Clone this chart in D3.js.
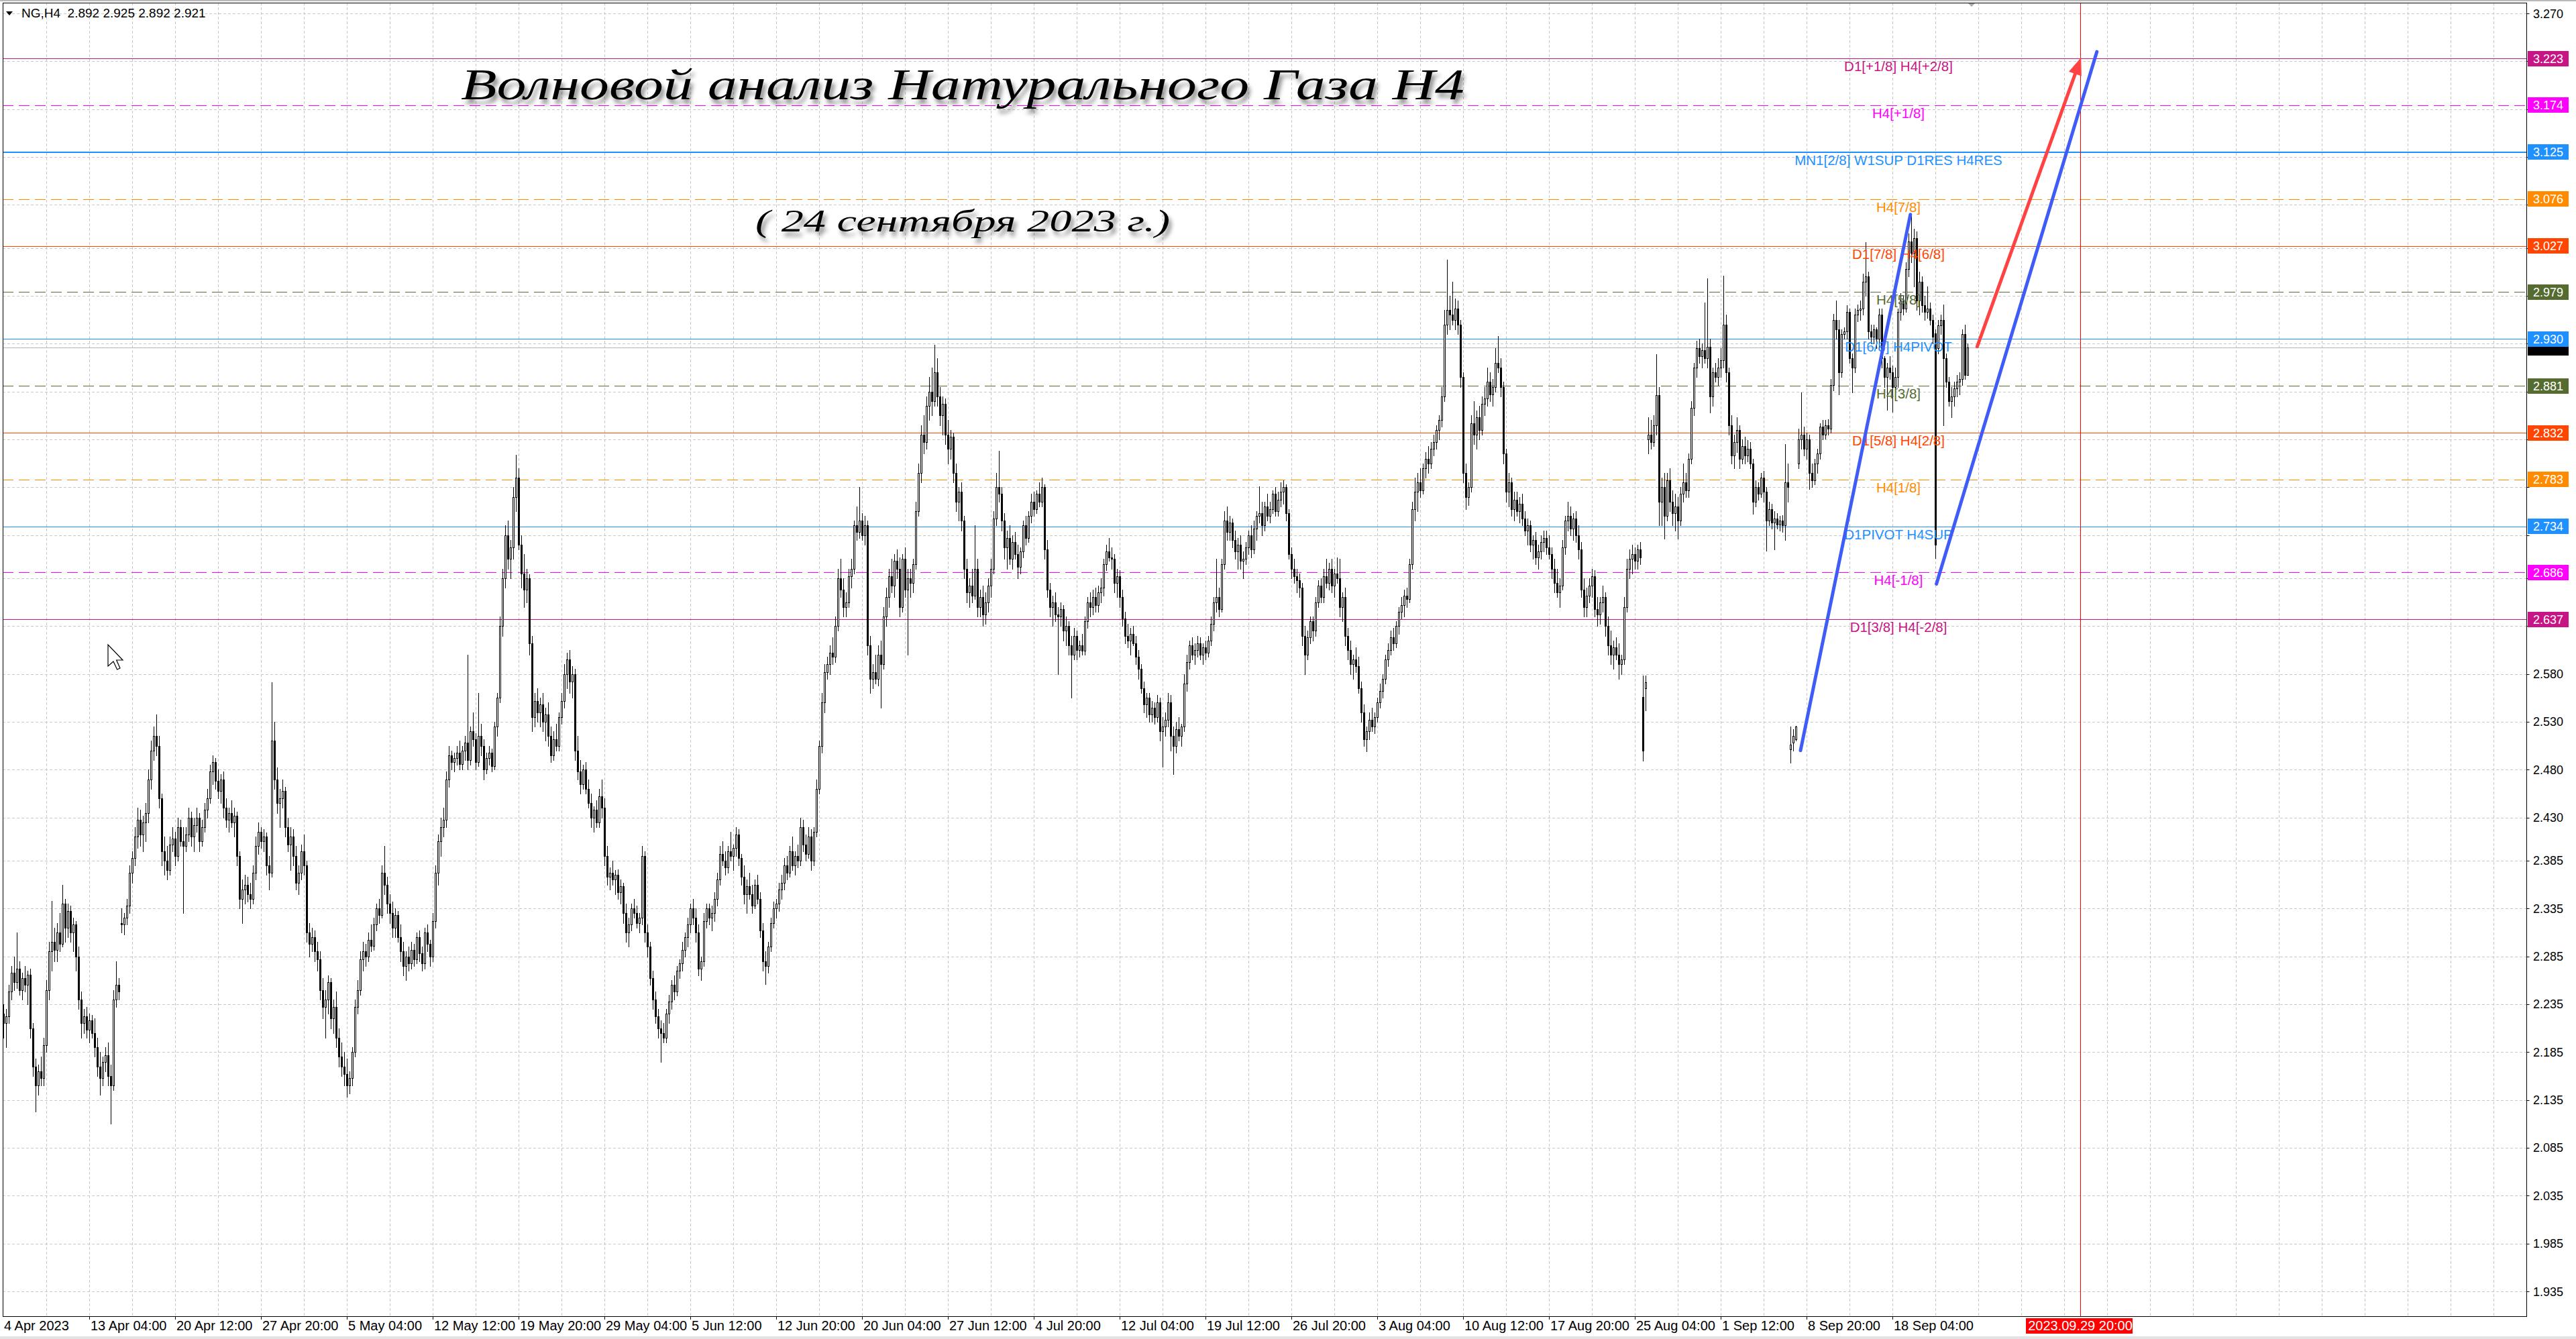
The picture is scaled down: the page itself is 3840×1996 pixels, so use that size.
<!DOCTYPE html>
<html><head><meta charset="utf-8">
<script src="https://cdn.jsdelivr.net/npm/d3@7"></script>
<style>
html,body{margin:0;padding:0;background:#fff;overflow:hidden;}
svg{display:block;}
</style></head><body>
<svg id="chart" width="3840" height="1996"></svg>
<script>
// ---------------- DATA ----------------
const symbolInfo = "NG,H4  2.892 2.925 2.892 2.921";
const titleText = "Волновой анализ Натурального Газа H4";
const subtitleText = "( 24 сентября 2023 г.)";

// time axis labels, one every 32 H4 bars starting at bar 0
const timeLabels = ["4 Apr 2023","13 Apr 04:00","20 Apr 12:00","27 Apr 20:00","5 May 04:00","12 May 12:00",
  "19 May 20:00","29 May 04:00","5 Jun 12:00","12 Jun 20:00","20 Jun 04:00","27 Jun 12:00","4 Jul 20:00",
  "12 Jul 04:00","19 Jul 12:00","26 Jul 20:00","3 Aug 04:00","10 Aug 12:00","17 Aug 20:00","25 Aug 04:00",
  "1 Sep 12:00","8 Sep 20:00","18 Sep 04:00"];
const barsPerTimeLabel = 32;

// price axis ticks
const priceTicks = [3.270,3.220,3.170,3.120,3.070,3.025,2.975,2.925,2.875,2.825,2.775,2.725,2.680,2.630,
  2.580,2.530,2.480,2.430,2.385,2.335,2.285,2.235,2.185,2.135,2.085,2.035,1.985,1.935];

// Murrey-math / pivot levels
const levelValues = [3.223,3.174,3.125,3.076,3.027,2.979,2.930,2.881,2.832,2.783,2.734,2.686,2.637];
const levelNames = ["D1[+1/8] H4[+2/8]","H4[+1/8]","MN1[2/8] W1SUP D1RES H4RES","H4[7/8]","D1[7/8] H4[6/8]",
  "H4[5/8]","D1[6/8] H4PIVOT","H4[3/8]","D1[5/8] H4[2/8]","H4[1/8]","D1PIVOT H4SUP","H4[-1/8]","D1[3/8] H4[-2/8]"];
const currentPrice = 2.921;

// trend lines: [bar0, price0, bar1, price1]
const blueLines = [[669.75, 2.500, 710.7, 3.060], [720.4, 2.674, 780.2, 3.230]];
const redArrow = [735.6, 2.922, 774.3, 3.224];
const forecastBar = 774;
const forecastLabel = "2023.09.29 20:00";

// H4 candles [open, high, low, close]
const ohlc = [
[2.225,2.235,2.200,2.215],[2.215,2.230,2.190,2.222],[2.222,2.255,2.215,2.248],[2.248,2.275,2.240,2.268],
[2.268,2.285,2.250,2.258],[2.258,2.310,2.252,2.272],[2.272,2.280,2.245,2.250],[2.250,2.268,2.240,2.262],
[2.262,2.275,2.248,2.255],[2.255,2.270,2.235,2.266],[2.266,2.272,2.200,2.210],[2.210,2.215,2.160,2.170],
[2.170,2.178,2.123,2.150],[2.150,2.172,2.140,2.165],[2.165,2.180,2.150,2.158],[2.158,2.200,2.150,2.192],
[2.192,2.260,2.185,2.250],[2.250,2.300,2.240,2.290],[2.290,2.343,2.270,2.300],[2.300,2.315,2.280,2.292],
[2.292,2.320,2.280,2.310],[2.310,2.330,2.290,2.298],[2.298,2.360,2.295,2.340],[2.340,2.345,2.300,2.315],
[2.315,2.340,2.305,2.332],[2.332,2.338,2.300,2.310],[2.310,2.325,2.290,2.318],[2.318,2.322,2.270,2.285],
[2.285,2.295,2.230,2.240],[2.240,2.248,2.200,2.215],[2.215,2.230,2.205,2.222],[2.222,2.232,2.200,2.208],
[2.208,2.225,2.195,2.218],[2.218,2.224,2.200,2.205],[2.205,2.220,2.180,2.190],[2.190,2.200,2.160,2.170],
[2.170,2.185,2.140,2.158],[2.158,2.180,2.150,2.175],[2.175,2.190,2.165,2.182],[2.182,2.195,2.150,2.160],
[2.160,2.172,2.110,2.150],[2.150,2.250,2.145,2.240],[2.240,2.280,2.232,2.255],[2.255,2.262,2.240,2.248],
[2.320,2.335,2.310,2.318],[2.318,2.330,2.308,2.325],[2.325,2.345,2.318,2.338],[2.338,2.380,2.330,2.372],
[2.372,2.395,2.362,2.388],[2.388,2.420,2.380,2.410],[2.410,2.440,2.398,2.428],[2.428,2.438,2.400,2.412],
[2.412,2.432,2.395,2.425],[2.425,2.445,2.405,2.435],[2.435,2.480,2.425,2.470],[2.470,2.510,2.460,2.500],
[2.500,2.525,2.490,2.515],[2.515,2.538,2.495,2.505],[2.505,2.515,2.440,2.450],[2.450,2.455,2.380,2.395],
[2.395,2.410,2.370,2.385],[2.385,2.400,2.365,2.375],[2.375,2.410,2.370,2.402],[2.402,2.420,2.395,2.408],
[2.408,2.415,2.380,2.390],[2.390,2.430,2.385,2.420],[2.420,2.428,2.400,2.405],[2.405,2.420,2.330,2.400],
[2.400,2.420,2.395,2.412],[2.412,2.440,2.405,2.430],[2.430,2.436,2.400,2.410],[2.410,2.430,2.395,2.422],
[2.422,2.440,2.415,2.430],[2.430,2.435,2.395,2.405],[2.405,2.428,2.400,2.420],[2.420,2.445,2.415,2.438],
[2.438,2.460,2.430,2.450],[2.450,2.485,2.445,2.478],[2.478,2.495,2.465,2.488],[2.488,2.492,2.460,2.468],
[2.468,2.480,2.450,2.458],[2.458,2.475,2.445,2.470],[2.470,2.478,2.430,2.440],[2.440,2.450,2.420,2.428],
[2.428,2.440,2.415,2.435],[2.435,2.448,2.420,2.425],[2.425,2.440,2.410,2.432],[2.432,2.436,2.380,2.390],
[2.390,2.395,2.335,2.345],[2.345,2.365,2.320,2.355],[2.355,2.370,2.340,2.360],[2.360,2.368,2.342,2.350],
[2.350,2.362,2.335,2.345],[2.345,2.380,2.340,2.372],[2.372,2.410,2.365,2.400],[2.400,2.425,2.392,2.415],
[2.415,2.420,2.398,2.405],[2.405,2.418,2.395,2.410],[2.410,2.414,2.370,2.380],[2.380,2.390,2.355,2.372],
[2.372,2.571,2.368,2.510],[2.510,2.530,2.460,2.470],[2.470,2.482,2.435,2.445],[2.445,2.460,2.420,2.450],
[2.450,2.470,2.440,2.458],[2.458,2.462,2.410,2.420],[2.420,2.430,2.395,2.402],[2.402,2.420,2.375,2.410],
[2.410,2.418,2.380,2.390],[2.390,2.400,2.355,2.362],[2.362,2.380,2.350,2.372],[2.372,2.402,2.365,2.395],
[2.395,2.412,2.370,2.380],[2.380,2.385,2.300,2.310],[2.310,2.320,2.285,2.298],[2.298,2.315,2.290,2.305],
[2.305,2.312,2.280,2.290],[2.290,2.300,2.270,2.282],[2.282,2.290,2.240,2.250],[2.250,2.262,2.220,2.232],
[2.232,2.250,2.200,2.240],[2.240,2.265,2.225,2.258],[2.258,2.262,2.210,2.220],[2.220,2.240,2.205,2.232],
[2.232,2.248,2.190,2.200],[2.200,2.210,2.170,2.180],[2.180,2.195,2.160,2.170],[2.170,2.185,2.150,2.162],
[2.162,2.178,2.138,2.150],[2.150,2.165,2.142,2.158],[2.158,2.190,2.150,2.185],[2.185,2.240,2.180,2.232],
[2.232,2.260,2.225,2.250],[2.250,2.290,2.245,2.282],[2.282,2.300,2.270,2.290],[2.290,2.298,2.275,2.285],
[2.285,2.310,2.280,2.302],[2.302,2.318,2.290,2.296],[2.296,2.325,2.292,2.318],[2.318,2.340,2.312,2.335],
[2.335,2.345,2.320,2.328],[2.328,2.380,2.325,2.372],[2.372,2.400,2.350,2.360],[2.360,2.368,2.330,2.340],
[2.340,2.350,2.320,2.330],[2.330,2.342,2.305,2.315],[2.315,2.335,2.305,2.328],[2.328,2.332,2.300,2.305],
[2.305,2.318,2.280,2.290],[2.290,2.300,2.265,2.275],[2.275,2.290,2.260,2.285],[2.285,2.295,2.270,2.278],
[2.278,2.300,2.272,2.292],[2.292,2.298,2.275,2.282],[2.282,2.310,2.278,2.305],[2.305,2.312,2.280,2.288],
[2.288,2.295,2.270,2.278],[2.278,2.315,2.272,2.310],[2.310,2.318,2.290,2.298],[2.298,2.302,2.275,2.285],
[2.285,2.330,2.280,2.322],[2.322,2.380,2.315,2.372],[2.372,2.412,2.360,2.405],[2.405,2.430,2.390,2.420],
[2.420,2.440,2.410,2.428],[2.428,2.478,2.420,2.470],[2.470,2.505,2.462,2.495],[2.495,2.500,2.480,2.488],
[2.488,2.498,2.478,2.492],[2.492,2.505,2.485,2.498],[2.498,2.510,2.480,2.486],[2.486,2.505,2.480,2.500],
[2.500,2.515,2.490,2.508],[2.508,2.600,2.480,2.490],[2.490,2.525,2.485,2.520],[2.520,2.540,2.505,2.512],
[2.512,2.518,2.480,2.488],[2.488,2.560,2.484,2.515],[2.515,2.528,2.495,2.505],[2.505,2.512,2.470,2.480],
[2.480,2.498,2.476,2.492],[2.492,2.505,2.485,2.498],[2.498,2.502,2.478,2.484],[2.484,2.530,2.480,2.525],
[2.525,2.560,2.515,2.555],[2.555,2.640,2.550,2.630],[2.630,2.690,2.620,2.680],[2.680,2.735,2.670,2.725],
[2.725,2.740,2.690,2.700],[2.700,2.720,2.680,2.712],[2.712,2.775,2.700,2.765],[2.765,2.809,2.750,2.785],
[2.785,2.795,2.710,2.715],[2.715,2.725,2.670,2.685],[2.685,2.705,2.650,2.668],[2.668,2.690,2.655,2.680],
[2.680,2.684,2.600,2.612],[2.612,2.620,2.520,2.535],[2.535,2.560,2.525,2.552],[2.552,2.565,2.530,2.540],
[2.540,2.555,2.525,2.548],[2.548,2.560,2.520,2.530],[2.530,2.545,2.510,2.538],[2.538,2.550,2.505,2.515],
[2.515,2.525,2.488,2.495],[2.495,2.520,2.490,2.512],[2.512,2.528,2.500,2.505],[2.505,2.540,2.500,2.535],
[2.535,2.560,2.528,2.552],[2.552,2.590,2.545,2.580],[2.580,2.602,2.565,2.595],[2.595,2.605,2.560,2.572],
[2.572,2.588,2.555,2.580],[2.580,2.585,2.490,2.500],[2.500,2.515,2.470,2.478],[2.478,2.490,2.455,2.465],
[2.465,2.485,2.460,2.480],[2.480,2.488,2.455,2.460],[2.460,2.470,2.440,2.445],[2.445,2.455,2.420,2.430],
[2.430,2.442,2.415,2.438],[2.438,2.448,2.420,2.425],[2.425,2.460,2.420,2.452],[2.452,2.470,2.430,2.440],
[2.440,2.450,2.380,2.390],[2.390,2.400,2.360,2.368],[2.368,2.378,2.355,2.372],[2.372,2.385,2.360,2.365],
[2.365,2.375,2.350,2.370],[2.370,2.376,2.345,2.352],[2.352,2.365,2.340,2.358],[2.358,2.362,2.320,2.330],
[2.330,2.340,2.300,2.310],[2.310,2.325,2.295,2.318],[2.318,2.340,2.312,2.335],[2.335,2.345,2.325,2.330],
[2.330,2.338,2.315,2.320],[2.320,2.330,2.310,2.325],[2.325,2.400,2.318,2.390],[2.390,2.395,2.300,2.310],
[2.310,2.318,2.285,2.295],[2.295,2.300,2.255,2.262],[2.262,2.270,2.230,2.240],[2.240,2.248,2.215,2.222],
[2.222,2.230,2.200,2.210],[2.210,2.218,2.175,2.205],[2.205,2.215,2.195,2.200],[2.200,2.230,2.195,2.225],
[2.225,2.245,2.215,2.238],[2.238,2.260,2.230,2.255],[2.255,2.265,2.240,2.248],[2.248,2.275,2.244,2.270],
[2.270,2.282,2.262,2.278],[2.278,2.300,2.270,2.292],[2.292,2.310,2.285,2.305],[2.305,2.325,2.295,2.318],
[2.318,2.340,2.310,2.335],[2.335,2.345,2.318,2.325],[2.325,2.335,2.300,2.310],[2.310,2.318,2.265,2.272],
[2.272,2.285,2.260,2.280],[2.280,2.330,2.275,2.322],[2.322,2.340,2.315,2.335],[2.335,2.340,2.318,2.325],
[2.325,2.338,2.312,2.330],[2.330,2.352,2.322,2.345],[2.345,2.372,2.338,2.365],[2.365,2.400,2.360,2.392],
[2.392,2.405,2.380,2.385],[2.385,2.395,2.370,2.378],[2.378,2.400,2.372,2.395],[2.395,2.415,2.385,2.390],
[2.390,2.402,2.375,2.398],[2.398,2.420,2.390,2.412],[2.412,2.418,2.380,2.388],[2.388,2.392,2.360,2.368],
[2.368,2.380,2.340,2.350],[2.350,2.365,2.330,2.358],[2.358,2.372,2.345,2.350],[2.350,2.360,2.330,2.338],
[2.338,2.365,2.335,2.360],[2.360,2.370,2.340,2.345],[2.345,2.352,2.305,2.312],[2.312,2.320,2.270,2.280],
[2.280,2.290,2.256,2.275],[2.275,2.300,2.268,2.295],[2.295,2.325,2.290,2.320],[2.320,2.342,2.315,2.335],
[2.335,2.345,2.325,2.340],[2.340,2.362,2.332,2.355],[2.355,2.370,2.345,2.362],[2.362,2.388,2.355,2.380],
[2.380,2.390,2.365,2.372],[2.372,2.400,2.368,2.395],[2.395,2.410,2.375,2.380],[2.380,2.395,2.370,2.390],
[2.390,2.402,2.378,2.385],[2.385,2.430,2.380,2.420],[2.420,2.428,2.395,2.402],[2.402,2.412,2.385,2.392],
[2.392,2.420,2.388,2.410],[2.410,2.418,2.375,2.385],[2.385,2.420,2.380,2.415],[2.415,2.470,2.410,2.460],
[2.460,2.510,2.455,2.505],[2.505,2.560,2.498,2.550],[2.550,2.590,2.540,2.582],[2.582,2.598,2.575,2.590],
[2.590,2.610,2.580,2.602],[2.602,2.618,2.590,2.598],[2.598,2.640,2.592,2.630],[2.630,2.690,2.625,2.680],
[2.680,2.700,2.660,2.668],[2.668,2.680,2.640,2.650],[2.650,2.665,2.640,2.655],[2.655,2.690,2.650,2.682],
[2.682,2.700,2.670,2.690],[2.690,2.740,2.685,2.735],[2.735,2.755,2.720,2.728],[2.728,2.775,2.722,2.740],
[2.740,2.748,2.720,2.725],[2.725,2.745,2.715,2.735],[2.735,2.740,2.600,2.610],[2.610,2.620,2.560,2.575],
[2.575,2.590,2.565,2.582],[2.582,2.600,2.570,2.575],[2.575,2.610,2.568,2.600],[2.600,2.615,2.545,2.590],
[2.590,2.650,2.585,2.640],[2.640,2.670,2.630,2.660],[2.660,2.690,2.650,2.682],[2.682,2.700,2.665,2.672],
[2.672,2.705,2.660,2.698],[2.698,2.710,2.680,2.690],[2.690,2.702,2.640,2.650],[2.650,2.705,2.645,2.700],
[2.700,2.712,2.660,2.668],[2.668,2.690,2.600,2.680],[2.680,2.690,2.660,2.675],[2.675,2.700,2.665,2.695],
[2.695,2.760,2.690,2.750],[2.750,2.800,2.745,2.790],[2.790,2.840,2.780,2.830],[2.830,2.850,2.810,2.822],
[2.822,2.870,2.815,2.860],[2.860,2.890,2.845,2.875],[2.875,2.900,2.850,2.865],[2.865,2.924,2.860,2.895],
[2.895,2.910,2.860,2.870],[2.870,2.880,2.840,2.850],[2.850,2.870,2.830,2.862],[2.862,2.868,2.820,2.830],
[2.830,2.845,2.800,2.815],[2.815,2.835,2.805,2.828],[2.828,2.832,2.780,2.790],[2.790,2.800,2.750,2.760],
[2.760,2.775,2.740,2.770],[2.770,2.780,2.730,2.740],[2.740,2.745,2.680,2.690],[2.690,2.700,2.655,2.665],
[2.665,2.680,2.650,2.672],[2.672,2.690,2.655,2.662],[2.662,2.735,2.658,2.690],[2.690,2.700,2.640,2.650],
[2.650,2.668,2.640,2.660],[2.660,2.672,2.630,2.642],[2.642,2.665,2.632,2.655],[2.655,2.680,2.645,2.672],
[2.672,2.700,2.660,2.690],[2.690,2.750,2.685,2.742],[2.742,2.790,2.735,2.775],[2.775,2.813,2.760,2.768],
[2.768,2.775,2.730,2.740],[2.740,2.748,2.700,2.712],[2.712,2.730,2.690,2.722],[2.722,2.735,2.695,2.700],
[2.700,2.725,2.690,2.718],[2.718,2.728,2.700,2.705],[2.705,2.715,2.680,2.692],[2.692,2.712,2.685,2.708],
[2.708,2.740,2.702,2.735],[2.735,2.745,2.715,2.722],[2.722,2.750,2.718,2.745],[2.745,2.768,2.738,2.760],
[2.760,2.770,2.745,2.752],[2.752,2.772,2.748,2.768],[2.768,2.780,2.755,2.760],[2.760,2.785,2.755,2.775],
[2.775,2.778,2.700,2.710],[2.710,2.720,2.660,2.668],[2.668,2.675,2.640,2.650],[2.650,2.662,2.630,2.655],
[2.655,2.665,2.635,2.642],[2.642,2.650,2.580,2.640],[2.640,2.655,2.630,2.648],[2.648,2.652,2.615,2.625],
[2.625,2.640,2.610,2.630],[2.630,2.635,2.600,2.610],[2.610,2.620,2.555,2.600],[2.600,2.628,2.595,2.620],
[2.620,2.625,2.595,2.605],[2.605,2.615,2.598,2.610],[2.610,2.622,2.600,2.604],[2.604,2.640,2.600,2.635],
[2.635,2.660,2.628,2.655],[2.655,2.665,2.640,2.650],[2.650,2.668,2.642,2.660],[2.660,2.670,2.645,2.652],
[2.652,2.672,2.645,2.665],[2.665,2.680,2.655,2.670],[2.670,2.700,2.662,2.695],[2.695,2.715,2.688,2.708],
[2.708,2.722,2.698,2.702],[2.702,2.712,2.690,2.700],[2.700,2.705,2.665,2.675],[2.675,2.690,2.660,2.682],
[2.682,2.688,2.650,2.660],[2.660,2.668,2.630,2.638],[2.638,2.645,2.612,2.620],[2.620,2.632,2.608,2.615],
[2.615,2.628,2.600,2.622],[2.622,2.630,2.610,2.612],[2.612,2.620,2.590,2.598],[2.598,2.605,2.575,2.585],
[2.585,2.590,2.560,2.565],[2.565,2.572,2.540,2.548],[2.548,2.560,2.535,2.555],[2.555,2.560,2.530,2.538],
[2.538,2.552,2.530,2.545],[2.545,2.550,2.528,2.535],[2.535,2.558,2.530,2.550],[2.550,2.555,2.510,2.520],
[2.520,2.535,2.483,2.525],[2.525,2.540,2.515,2.532],[2.532,2.560,2.525,2.550],[2.550,2.558,2.500,2.515],
[2.515,2.525,2.475,2.505],[2.505,2.530,2.498,2.522],[2.522,2.535,2.510,2.515],[2.515,2.528,2.505,2.525],
[2.525,2.580,2.520,2.570],[2.570,2.600,2.562,2.592],[2.592,2.615,2.585,2.610],[2.610,2.618,2.595,2.600],
[2.600,2.612,2.590,2.605],[2.605,2.620,2.598,2.612],[2.612,2.618,2.595,2.600],[2.600,2.612,2.590,2.608],
[2.608,2.615,2.595,2.602],[2.602,2.620,2.598,2.615],[2.615,2.640,2.610,2.632],[2.632,2.660,2.625,2.655],
[2.655,2.700,2.645,2.660],[2.660,2.670,2.640,2.648],[2.648,2.700,2.645,2.695],[2.695,2.750,2.690,2.740],
[2.740,2.755,2.720,2.728],[2.728,2.745,2.720,2.738],[2.738,2.742,2.712,2.720],[2.720,2.730,2.700,2.708],
[2.708,2.722,2.690,2.715],[2.715,2.725,2.690,2.698],[2.698,2.708,2.680,2.700],[2.700,2.718,2.695,2.712],
[2.712,2.730,2.705,2.725],[2.725,2.735,2.702,2.710],[2.710,2.740,2.706,2.732],[2.732,2.750,2.720,2.745],
[2.745,2.776,2.738,2.748],[2.748,2.760,2.725,2.735],[2.735,2.760,2.730,2.755],[2.755,2.768,2.740,2.745],
[2.745,2.760,2.738,2.752],[2.752,2.772,2.748,2.768],[2.768,2.775,2.745,2.750],[2.750,2.770,2.745,2.762],
[2.762,2.780,2.755,2.770],[2.770,2.782,2.758,2.775],[2.775,2.778,2.740,2.748],[2.748,2.752,2.700,2.705],
[2.705,2.712,2.680,2.690],[2.690,2.700,2.675,2.682],[2.682,2.690,2.665,2.678],[2.678,2.685,2.660,2.670],
[2.670,2.675,2.610,2.620],[2.620,2.630,2.580,2.600],[2.600,2.625,2.595,2.618],[2.618,2.640,2.612,2.635],
[2.635,2.640,2.615,2.625],[2.625,2.660,2.620,2.655],[2.655,2.678,2.650,2.672],[2.672,2.680,2.655,2.660],
[2.660,2.690,2.655,2.682],[2.682,2.700,2.670,2.675],[2.675,2.696,2.668,2.690],[2.690,2.700,2.665,2.672],
[2.672,2.690,2.660,2.685],[2.685,2.702,2.675,2.680],[2.680,2.700,2.640,2.650],[2.650,2.665,2.635,2.660],
[2.660,2.670,2.610,2.620],[2.620,2.628,2.595,2.605],[2.605,2.615,2.580,2.590],[2.590,2.600,2.575,2.595],
[2.595,2.608,2.582,2.588],[2.588,2.598,2.560,2.565],[2.565,2.572,2.530,2.540],[2.540,2.548,2.505,2.512],
[2.512,2.525,2.499,2.520],[2.520,2.540,2.512,2.532],[2.532,2.545,2.520,2.525],[2.525,2.540,2.518,2.535],
[2.535,2.555,2.530,2.550],[2.550,2.570,2.545,2.562],[2.562,2.580,2.555,2.575],[2.575,2.600,2.570,2.595],
[2.595,2.612,2.588,2.605],[2.605,2.625,2.600,2.618],[2.618,2.628,2.605,2.612],[2.612,2.635,2.608,2.630],
[2.630,2.650,2.622,2.645],[2.645,2.660,2.638,2.652],[2.652,2.668,2.640,2.662],[2.662,2.670,2.650,2.658],
[2.658,2.700,2.655,2.695],[2.695,2.760,2.690,2.752],[2.752,2.785,2.740,2.770],[2.770,2.790,2.750,2.780],
[2.780,2.795,2.765,2.772],[2.772,2.800,2.768,2.795],[2.795,2.812,2.785,2.805],[2.805,2.818,2.790,2.800],
[2.800,2.822,2.795,2.815],[2.815,2.830,2.808,2.822],[2.822,2.840,2.815,2.835],[2.835,2.850,2.825,2.845],
[2.845,2.880,2.838,2.870],[2.870,2.960,2.865,2.945],[2.945,3.013,2.935,2.960],[2.960,2.975,2.940,2.955],
[2.955,2.990,2.945,2.950],[2.950,2.972,2.940,2.962],[2.962,2.970,2.935,2.945],[2.945,2.950,2.880,2.890],
[2.890,2.895,2.780,2.790],[2.790,2.800,2.752,2.765],[2.765,2.780,2.756,2.775],[2.775,2.850,2.770,2.842],
[2.842,2.865,2.820,2.830],[2.830,2.855,2.815,2.848],[2.848,2.860,2.825,2.835],[2.835,2.870,2.830,2.862],
[2.862,2.880,2.850,2.868],[2.868,2.900,2.860,2.885],[2.885,2.895,2.865,2.872],[2.872,2.888,2.860,2.880],
[2.880,2.920,2.875,2.905],[2.905,2.933,2.895,2.900],[2.900,2.910,2.870,2.880],[2.880,2.885,2.800,2.810],
[2.810,2.815,2.760,2.770],[2.770,2.790,2.755,2.780],[2.780,2.785,2.745,2.752],[2.752,2.770,2.740,2.762],
[2.762,2.770,2.745,2.750],[2.750,2.765,2.738,2.758],[2.758,2.768,2.735,2.742],[2.742,2.750,2.725,2.730],
[2.730,2.742,2.715,2.735],[2.735,2.740,2.708,2.715],[2.715,2.725,2.700,2.720],[2.720,2.728,2.695,2.702],
[2.702,2.715,2.690,2.708],[2.708,2.725,2.700,2.718],[2.718,2.730,2.708,2.722],[2.722,2.730,2.705,2.712],
[2.712,2.725,2.700,2.705],[2.705,2.712,2.680,2.690],[2.690,2.700,2.665,2.675],[2.675,2.690,2.660,2.665],
[2.665,2.680,2.650,2.672],[2.672,2.720,2.668,2.712],[2.712,2.745,2.705,2.740],[2.740,2.760,2.730,2.745],
[2.745,2.755,2.725,2.732],[2.732,2.748,2.720,2.742],[2.742,2.750,2.718,2.725],[2.725,2.735,2.700,2.710],
[2.710,2.718,2.660,2.668],[2.668,2.680,2.640,2.650],[2.650,2.670,2.640,2.662],[2.662,2.680,2.655,2.672],
[2.672,2.690,2.660,2.682],[2.682,2.688,2.640,2.648],[2.648,2.660,2.630,2.642],[2.642,2.660,2.632,2.655],
[2.655,2.672,2.645,2.660],[2.660,2.665,2.620,2.630],[2.630,2.640,2.600,2.610],[2.610,2.625,2.590,2.600],
[2.600,2.615,2.585,2.608],[2.608,2.618,2.595,2.600],[2.600,2.612,2.575,2.590],[2.590,2.600,2.580,2.595],
[2.595,2.660,2.590,2.650],[2.650,2.700,2.645,2.690],[2.690,2.710,2.680,2.700],[2.700,2.715,2.685,2.705],
[2.705,2.712,2.690,2.698],[2.698,2.715,2.690,2.710],[2.710,2.718,2.695,2.702],[2.556,2.578,2.489,2.500],
[2.565,2.578,2.542,2.571],[2.825,2.848,2.810,2.830],[2.830,2.845,2.815,2.822],[2.822,2.850,2.818,2.840],
[2.840,2.914,2.830,2.871],[2.871,2.880,2.735,2.760],[2.760,2.785,2.735,2.775],[2.775,2.790,2.721,2.745],
[2.745,2.790,2.740,2.782],[2.782,2.795,2.750,2.760],[2.760,2.772,2.735,2.748],[2.748,2.768,2.730,2.755],
[2.755,2.765,2.721,2.740],[2.740,2.775,2.735,2.768],[2.768,2.800,2.760,2.780],[2.780,2.790,2.765,2.772],
[2.772,2.810,2.765,2.805],[2.805,2.865,2.800,2.858],[2.858,2.905,2.850,2.900],[2.900,2.928,2.890,2.920],
[2.920,2.930,2.905,2.912],[2.912,2.925,2.900,2.918],[2.918,2.968,2.905,2.910],[2.910,2.993,2.900,2.922],
[2.922,2.930,2.853,2.870],[2.870,2.900,2.860,2.895],[2.895,2.905,2.885,2.890],[2.890,2.910,2.882,2.900],
[2.900,2.920,2.890,2.908],[2.908,2.996,2.900,2.945],[2.945,2.955,2.885,2.895],[2.895,2.900,2.830,2.840],
[2.840,2.850,2.800,2.808],[2.808,2.830,2.795,2.822],[2.822,2.848,2.812,2.835],[2.835,2.840,2.795,2.805],
[2.805,2.825,2.800,2.818],[2.818,2.828,2.800,2.808],[2.808,2.824,2.802,2.815],[2.815,2.822,2.795,2.800],
[2.800,2.805,2.747,2.760],[2.760,2.782,2.755,2.775],[2.775,2.780,2.762,2.768],[2.768,2.790,2.765,2.785],
[2.785,2.792,2.760,2.770],[2.770,2.775,2.709,2.740],[2.740,2.760,2.735,2.752],[2.752,2.758,2.732,2.738],
[2.738,2.750,2.710,2.742],[2.742,2.748,2.732,2.736],[2.736,2.745,2.730,2.740],[2.740,2.746,2.728,2.735],
[2.735,2.820,2.720,2.780],[2.780,2.800,2.760,2.775],[2.501,2.525,2.487,2.506],[2.508,2.522,2.500,2.515],
[2.512,2.526,2.510,2.525],[2.800,2.836,2.795,2.825],[2.825,2.874,2.815,2.830],[2.830,2.838,2.808,2.815],
[2.815,2.832,2.805,2.825],[2.825,2.830,2.773,2.790],[2.790,2.800,2.775,2.782],[2.782,2.805,2.778,2.800],
[2.800,2.815,2.790,2.810],[2.810,2.842,2.805,2.838],[2.838,2.845,2.825,2.830],[2.830,2.845,2.826,2.840],
[2.840,2.846,2.830,2.836],[2.836,2.888,2.832,2.882],[2.882,2.956,2.876,2.950],[2.950,2.970,2.930,2.940],
[2.940,2.950,2.872,2.895],[2.895,2.940,2.890,2.935],[2.935,2.942,2.930,2.938],[2.938,2.965,2.930,2.958],
[2.958,2.962,2.905,2.910],[2.910,2.915,2.874,2.900],[2.900,2.962,2.895,2.955],[2.955,2.966,2.948,2.960],
[2.960,2.970,2.950,2.962],[2.962,2.998,2.955,2.990],[2.990,3.031,2.975,2.995],[2.995,3.000,2.930,2.938],
[2.938,2.945,2.925,2.932],[2.932,2.945,2.925,2.940],[2.940,2.942,2.920,2.930],[2.930,2.962,2.920,2.955],
[2.955,2.962,2.900,2.910],[2.910,2.912,2.880,2.890],[2.890,2.905,2.856,2.900],[2.900,2.912,2.888,2.895],
[2.895,2.902,2.854,2.880],[2.880,2.900,2.875,2.890],[2.890,2.962,2.880,2.958],[2.958,2.978,2.950,2.970],
[2.970,2.975,2.955,2.962],[2.962,3.010,2.958,3.003],[3.003,3.040,2.995,3.032],[3.032,3.059,3.010,3.020],
[3.020,3.045,2.985,3.035],[3.035,3.042,2.960,2.970],[2.970,3.000,2.955,2.990],[2.990,2.995,2.958,2.965],
[2.965,2.975,2.950,2.958],[2.958,2.985,2.952,2.962],[2.962,2.968,2.945,2.950],[2.950,2.955,2.925,2.932],
[2.936,2.940,2.701,2.715],[2.920,2.950,2.915,2.944],[2.944,2.955,2.935,2.950],[2.950,2.966,2.840,2.910],
[2.910,2.915,2.880,2.885],[2.885,2.890,2.860,2.865],[2.865,2.880,2.848,2.870],[2.870,2.885,2.860,2.878],
[2.878,2.892,2.870,2.885],[2.885,2.895,2.872,2.888],[2.888,2.940,2.882,2.935],[2.935,2.945,2.888,2.892],
[2.892,2.925,2.892,2.921]
];

// ---------------- STYLE / LAYOUT ----------------
const levelStyles = [
  {c:"#C71585", dash:null, w:1}, {c:"#FF00FF", dash:"16,8", w:1}, {c:"#1E90FF", dash:null, w:2},
  {c:"#FF8C00", dash:"16,8", w:1}, {c:"#FF4500", dash:null, w:1}, {c:"#556B2F", dash:"16,8", w:1},
  {c:"#1E90FF", dash:null, w:1}, {c:"#556B2F", dash:"16,8", w:1}, {c:"#FF4500", dash:null, w:1},
  {c:"#FF8C00", dash:"16,8", w:1}, {c:"#1E90FF", dash:null, w:1}, {c:"#FF00FF", dash:"16,8", w:1},
  {c:"#C71585", dash:null, w:1}
];
const plot = {left: 4, top: 4, right: 3766, bottom: 1962};
const levelLabelBar = 706.25;
const axisFont = "'Liberation Sans', Arial, sans-serif";
const timeFont = "'Liberation Sans Narrow', 'Arial Narrow', 'Liberation Sans', sans-serif";

const svg = d3.select("#chart");
const x = d3.scaleLinear().domain([0, ohlc.length - 1]).range([5, 5 + 4 * (ohlc.length - 1)]);
const y = d3.scaleLinear().domain([1.935, 3.270]).range([1925, 20]);
const cr = v => Math.round(v) + 0.5;

const defs = svg.append("defs");
defs.append("clipPath").attr("id", "plotClip").append("rect")
  .attr("x", plot.left).attr("y", plot.top)
  .attr("width", plot.right - plot.left).attr("height", plot.bottom - plot.top);
const f = defs.append("filter").attr("id", "shadow").attr("x", "-5%").attr("y", "-30%").attr("width", "115%").attr("height", "170%");
f.append("feDropShadow").attr("dx", 4).attr("dy", 7).attr("stdDeviation", 3)
  .attr("flood-color", "#000").attr("flood-opacity", 0.45);

svg.append("rect").attr("width", 3840).attr("height", 1996).attr("fill", "#fff");
svg.append("rect").attr("x", 0).attr("y", 0).attr("width", 3840).attr("height", 2).attr("fill", "#b9b9b9");
svg.append("rect").attr("x", 0).attr("y", 1992).attr("width", 3840).attr("height", 4).attr("fill", "#e3e3e3");

const gp = svg.append("g").attr("clip-path", "url(#plotClip)");

// grid
const vGridBars = d3.range(16, 1000, 16).filter(b => x(b) < plot.right);
gp.append("g").selectAll("line").data(vGridBars).join("line")
  .attr("x1", d => cr(x(d))).attr("x2", d => cr(x(d)))
  .attr("y1", plot.top).attr("y2", plot.bottom)
  .attr("stroke", "#c8c8c8").attr("stroke-width", 1).attr("stroke-dasharray", "4,3");
gp.append("g").selectAll("line").data(priceTicks).join("line")
  .attr("x1", plot.left).attr("x2", plot.right)
  .attr("y1", d => cr(y(d))).attr("y2", d => cr(y(d)))
  .attr("stroke", "#c8c8c8").attr("stroke-width", 1).attr("stroke-dasharray", "4,3");

// level lines
gp.append("g").selectAll("line").data(levelValues).join("line")
  .attr("x1", plot.left).attr("x2", plot.right)
  .attr("y1", (d, i) => levelStyles[i].w === 2 ? Math.round(y(d)) : cr(y(d)))
  .attr("y2", (d, i) => levelStyles[i].w === 2 ? Math.round(y(d)) : cr(y(d)))
  .attr("stroke", (d, i) => levelStyles[i].c)
  .attr("stroke-width", (d, i) => levelStyles[i].w)
  .attr("stroke-dasharray", (d, i) => levelStyles[i].dash);

// current price line
gp.append("line").attr("x1", plot.left).attr("x2", plot.right)
  .attr("y1", cr(y(currentPrice))).attr("y2", cr(y(currentPrice)))
  .attr("stroke", "#b4b4b4").attr("stroke-width", 1);

// forecast vertical line
gp.append("line").attr("x1", cr(x(forecastBar))).attr("x2", cr(x(forecastBar)))
  .attr("y1", plot.top).attr("y2", plot.bottom).attr("stroke", "#ff0000").attr("stroke-width", 1);

// candles
const gc = gp.append("g");
const cg = gc.selectAll("g").data(ohlc).join("g");
cg.append("line")
  .attr("x1", (d, i) => cr(x(i))).attr("x2", (d, i) => cr(x(i)))
  .attr("y1", d => Math.round(y(d[1]))).attr("y2", d => Math.round(y(d[2])) + 1)
  .attr("stroke", "#000").attr("stroke-width", 1);
cg.append("rect")
  .attr("x", (d, i) => d[3] >= d[0] ? Math.round(x(i)) - 0.5 : Math.round(x(i)) - 1)
  .attr("y", d => {
    const t = Math.round(y(Math.max(d[0], d[3])));
    return d[3] >= d[0] ? t + 0.5 : t;
  })
  .attr("width", d => d[3] >= d[0] ? 2 : 3)
  .attr("height", d => {
    const t = Math.round(y(Math.max(d[0], d[3]))), b = Math.round(y(Math.min(d[0], d[3])));
    return d[3] >= d[0] ? Math.max(0, b - t) : Math.max(1, b - t + 1);
  })
  .attr("fill", d => d[3] >= d[0] ? "#fff" : "#000")
  .attr("stroke", d => d[3] >= d[0] ? "#000" : "none")
  .attr("stroke-width", 1);

// level text labels
gp.append("g").selectAll("text").data(levelValues).join("text")
  .attr("x", x(levelLabelBar)).attr("y", d => y(d) + 19)
  .attr("text-anchor", "middle")
  .attr("font-family", axisFont).attr("font-size", 20.5)
  .attr("fill", (d, i) => levelStyles[i].c)
  .text((d, i) => levelNames[i]);

// blue trend lines
gp.append("g").selectAll("line").data(blueLines).join("line")
  .attr("x1", d => x(d[0])).attr("y1", d => y(d[1]))
  .attr("x2", d => x(d[2])).attr("y2", d => y(d[3]))
  .attr("stroke", "#3f5cf6").attr("stroke-width", 5).attr("stroke-linecap", "round");

// red arrow
{
  const x1 = x(redArrow[0]), y1 = y(redArrow[1]), x2 = x(redArrow[2]), y2 = y(redArrow[3]);
  const a = Math.atan2(y2 - y1, x2 - x1), L = 26, Wd = 10;
  const bx = x2 - L * Math.cos(a), by = y2 - L * Math.sin(a);
  gp.append("line").attr("x1", x1).attr("y1", y1).attr("x2", bx + 3 * Math.cos(a)).attr("y2", by + 3 * Math.sin(a))
    .attr("stroke", "#ff4242").attr("stroke-width", 5).attr("stroke-linecap", "round");
  const pts = [[x2, y2], [bx + Wd * Math.sin(a), by - Wd * Math.cos(a)], [bx - Wd * Math.sin(a), by + Wd * Math.cos(a)]];
  gp.append("polygon").attr("points", pts.map(p => p.join(",")).join(" ")).attr("fill", "#ff4242");
}

// titles
svg.append("text").attr("x", 1435).attr("y", 148).attr("text-anchor", "middle")
  .attr("font-family", "'Liberation Serif', 'DejaVu Serif', serif").attr("font-style", "italic")
  .attr("font-size", 66).attr("textLength", 1496).attr("lengthAdjust", "spacingAndGlyphs")
  .attr("fill", "#000").attr("filter", "url(#shadow)").text(titleText);
svg.append("text").attr("x", 1435).attr("y", 345).attr("text-anchor", "middle")
  .attr("font-family", "'Liberation Serif', 'DejaVu Serif', serif").attr("font-style", "italic")
  .attr("font-size", 46).attr("textLength", 618).attr("lengthAdjust", "spacingAndGlyphs")
  .attr("fill", "#000").attr("filter", "url(#shadow)").text(subtitleText);

// mouse cursor
svg.append("path").attr("transform", "translate(161,961) scale(2)")
  .attr("d", "M0,0 L0,16 L4,12.5 L6.8,18.5 L9,17.5 L6.3,11.5 L11,11.5 Z")
  .attr("fill", "#fff").attr("stroke", "#000").attr("stroke-width", 0.6);

// chart shift marker
svg.append("path").attr("d", `M${x(ohlc.length - 1)},4 L${x(ohlc.length - 1) + 12},4 L${x(ohlc.length - 1) + 6},10 Z`)
  .attr("fill", "#a8a8a8");

// frame
svg.append("rect").attr("x", plot.left + 0.5).attr("y", plot.top + 0.5)
  .attr("width", plot.right - plot.left).attr("height", plot.bottom - plot.top)
  .attr("fill", "none").attr("stroke", "#000").attr("stroke-width", 1);

// right axis ticks & labels (labels hidden behind a level box are not drawn)
const boxH = 23;
const boxPrices = levelValues.concat([currentPrice]);
const visibleTicks = priceTicks.filter(t => boxPrices.every(b => Math.abs(y(t) - y(b)) > boxH));
const ga = svg.append("g");
ga.selectAll("line.pt").data(priceTicks).join("line").attr("class", "pt")
  .attr("x1", plot.right + 0.5).attr("x2", plot.right + 4.5)
  .attr("y1", d => cr(y(d))).attr("y2", d => cr(y(d))).attr("stroke", "#000");
ga.selectAll("text.pt").data(visibleTicks).join("text").attr("class", "pt")
  .attr("x", 3776).attr("y", d => y(d) + 6.5)
  .attr("font-family", axisFont).attr("font-size", 18).attr("fill", "#000")
  .text(d => d.toFixed(3));

// current price box (mostly covered by the 2.930 level box)
ga.append("rect").attr("x", 3768).attr("y", Math.round(y(currentPrice) - boxH / 2)).attr("width", 61).attr("height", boxH).attr("fill", "#000");

// level boxes
const lb = ga.selectAll("g.lb").data(levelValues).join("g").attr("class", "lb");
lb.append("rect").attr("x", 3768).attr("y", d => Math.round(y(d) - boxH / 2)).attr("width", 61).attr("height", boxH)
  .attr("fill", (d, i) => levelStyles[i].c);
lb.append("text").attr("x", 3776).attr("y", d => y(d) + 6.5).attr("font-family", axisFont).attr("font-size", 18)
  .attr("fill", "#fff").text(d => d.toFixed(3));

// time axis
const gt = svg.append("g");
const tl = timeLabels.map((t, k) => ({t, bar: k * barsPerTimeLabel}));
gt.selectAll("line").data(tl.slice(1)).join("line")
  .attr("x1", d => cr(x(d.bar))).attr("x2", d => cr(x(d.bar)))
  .attr("y1", plot.bottom + 1).attr("y2", plot.bottom + 5).attr("stroke", "#000");
gt.selectAll("text").data(tl).join("text")
  .attr("x", d => d.bar === 0 ? 6 : Math.round(x(d.bar)) + 2).attr("y", 1983)
  .attr("font-family", timeFont).attr("font-size", 20).attr("fill", "#000")
  .text(d => d.t);

// forecast date box
gt.append("rect").attr("x", Math.round(x(forecastBar)) - 81).attr("y", 1965).attr("width", 159).attr("height", 23).attr("fill", "#ff0000");
gt.append("text").attr("x", x(forecastBar)).attr("y", 1983).attr("text-anchor", "middle")
  .attr("font-family", timeFont).attr("font-size", 20).attr("fill", "#fff").text(forecastLabel);

// symbol info
svg.append("path").attr("d", "M9,17 L19,17 L14,23 Z").attr("fill", "#000");
svg.append("text").attr("x", 32).attr("y", 26).attr("font-family", axisFont).attr("font-size", 19)
  .attr("fill", "#000").style("white-space", "pre").text(symbolInfo);
</script>
</body></html>
